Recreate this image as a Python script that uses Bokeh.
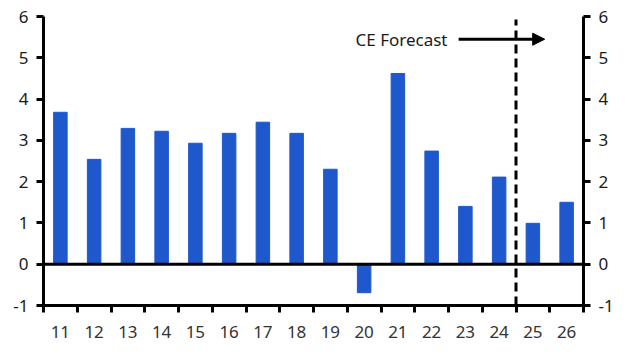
from bokeh.plotting import figure
from bokeh.models import (ColumnDataSource, FixedTicker, LinearAxis, Span, Range1d,
                          Arrow, NormalHead, Label)
from bokeh.embed import file_html
from bokeh.resources import INLINE

years = [11, 12, 13, 14, 15, 16, 17, 18, 19, 20, 21, 22, 23, 24, 25, 26]
values = [3.68, 2.54, 3.29, 3.22, 2.93, 3.17, 3.44, 3.17, 2.30, -0.69, 4.62, 2.74, 1.40, 2.11, 0.99, 1.50]
y_ticks = [-1, 0, 1, 2, 3, 4, 5, 6]
y_tick_labels = {t: str(t) for t in y_ticks}
forecast_start = 24.5
annotation_text = "CE Forecast"

FONT = "Noto Sans"
BAR = "#1F58CC"

p = figure(width=631, height=354, output_backend="svg", toolbar_location=None,
           x_range=Range1d(10.5, 26.5), y_range=Range1d(-1, 6),
           min_border_left=43, min_border_right=48, min_border_top=16, min_border_bottom=49)
p.outline_line_color = None
p.xgrid.visible = False
p.ygrid.visible = False

src = ColumnDataSource(dict(x=years, top=values))
p.vbar(x="x", top="top", bottom=0, width=0.4, source=src, color=BAR)

# zero line
p.add_layout(Span(location=0, dimension="width", line_color="black", line_width=3))

# forecast divider
p.segment(x0=[forecast_start], y0=[-1], x1=[forecast_start], y1=[5.93],
          line_color="black", line_width=3, line_dash="9 5")

# annotation
p.add_layout(Arrow(end=NormalHead(size=12, fill_color="black", line_color="black"),
                   x_start=22.8, y_start=5.45, x_end=25.35, y_end=5.45,
                   line_color="black", line_width=3))
p.add_layout(Label(x=22.47, y=5.45, text=annotation_text, text_align="right",
                   text_baseline="middle", text_font=FONT, text_font_size="17px",
                   text_color="#1a1a1a"))

# x axis
xa = p.xaxis[0]
xa.ticker = FixedTicker(ticks=years, minor_ticks=[y - 0.5 for y in years] + [years[-1] + 0.5])
xa.major_tick_out = 0
xa.major_tick_in = 0
xa.minor_tick_out = 7
xa.minor_tick_in = 0
xa.minor_tick_line_width = 3
xa.minor_tick_line_color = "black"
xa.axis_line_width = 3
xa.axis_line_color = "black"
xa.major_label_text_font = FONT
xa.major_label_text_font_size = "17px"
xa.major_label_text_color = "#333333"
xa.major_label_standoff = 13

def style_y(ax):
    ax.ticker = FixedTicker(ticks=y_ticks)
    ax.major_label_overrides = y_tick_labels
    ax.minor_tick_out = 0
    ax.minor_tick_in = 0
    ax.major_tick_out = 7
    ax.major_tick_in = 0
    ax.major_tick_line_width = 3
    ax.major_tick_line_color = "black"
    ax.axis_line_width = 3
    ax.axis_line_color = "black"
    ax.major_label_text_font = FONT
    ax.major_label_text_font_size = "17px"
    ax.major_label_text_color = "#1a1a1a"
    ax.major_label_standoff = 8

style_y(p.yaxis[0])
ra = LinearAxis()
style_y(ra)
p.add_layout(ra, "right")

open("out.html", "w").write(file_html(p, INLINE))
